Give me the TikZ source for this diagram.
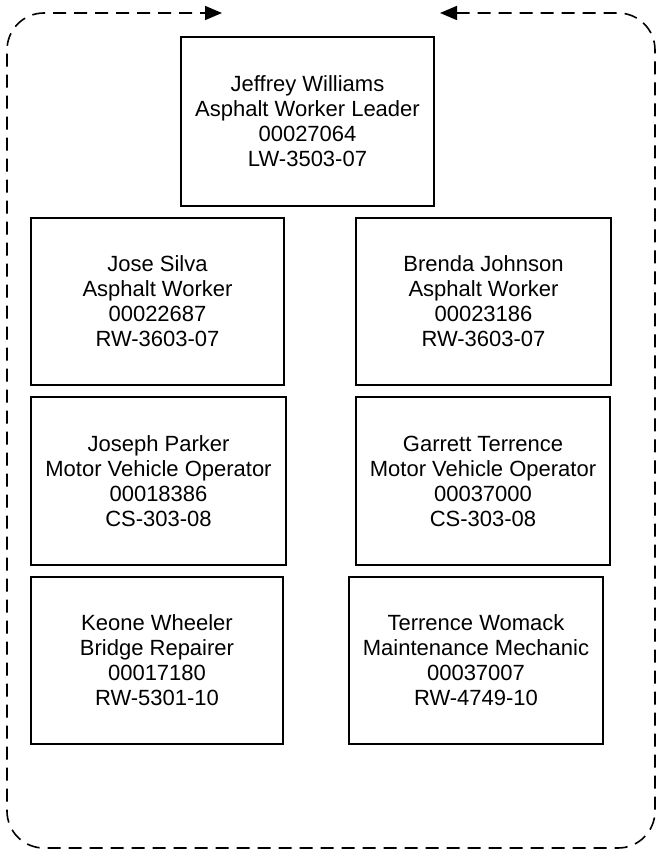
\documentclass[tikz,border=0pt]{standalone}
\usepackage{fontspec}
\setmainfont{Liberation Sans}
\usetikzlibrary{arrows.meta}

\tikzset{
    staff/.style={draw, line width=1.6pt, inner sep=0pt, align=center,
        minimum width=254pt, minimum height=168pt,
        font=\fontsize{22}{25}\selectfont},
    loopline/.style={line width=1.6pt, dash pattern=on 13pt off 8pt,
        rounded corners=37pt},
    looptip/.tip={Triangle[length=17pt, width=14pt]}
}

\begin{document}
\begin{tikzpicture}[x=1pt, y=-1pt]

    \useasboundingbox (0,0) rectangle (660,850);

    % Leader
    \node[staff, minimum width=253pt, minimum height=169pt] (leader) at (307.5,121.5)
        {Jeffrey Williams\\Asphalt Worker Leader\\00027064\\LW-3503-07};

    % Crew
    \node[staff, minimum width=253pt, minimum height=167pt] (silva) at (157.5,301.5)
        {Jose Silva\\Asphalt Worker\\00022687\\RW-3603-07};
    \node[staff, minimum width=255pt, minimum height=167pt] (johnson) at (483.5,301.5)
        {Brenda Johnson\\Asphalt Worker\\00023186\\RW-3603-07};
    \node[staff, minimum width=255pt] (parker) at (158.5,481)
        {Joseph Parker\\Motor Vehicle Operator\\00018386\\CS-303-08};
    \node[staff] (garrett) at (483,481)
        {Garrett Terrence\\Motor Vehicle Operator\\00037000\\CS-303-08};
    \node[staff, minimum width=252pt, minimum height=167pt] (wheeler) at (157,660.5)
        {Keone Wheeler\\Bridge Repairer\\00017180\\RW-5301-10};
    \node[staff, minimum height=167pt] (womack) at (476,660.5)
        {Terrence Womack\\Maintenance Mechanic\\00037007\\RW-4749-10};

    % Loop
    \coordinate (loopout) at (440,13);
    \coordinate (loopin) at (222,13);
    \draw[loopline, {looptip}-{looptip}]
        (loopout) -- (655,13) -- (655,848) -- (7,848) -- (7,13) -- (loopin);

\end{tikzpicture}
\end{document}
